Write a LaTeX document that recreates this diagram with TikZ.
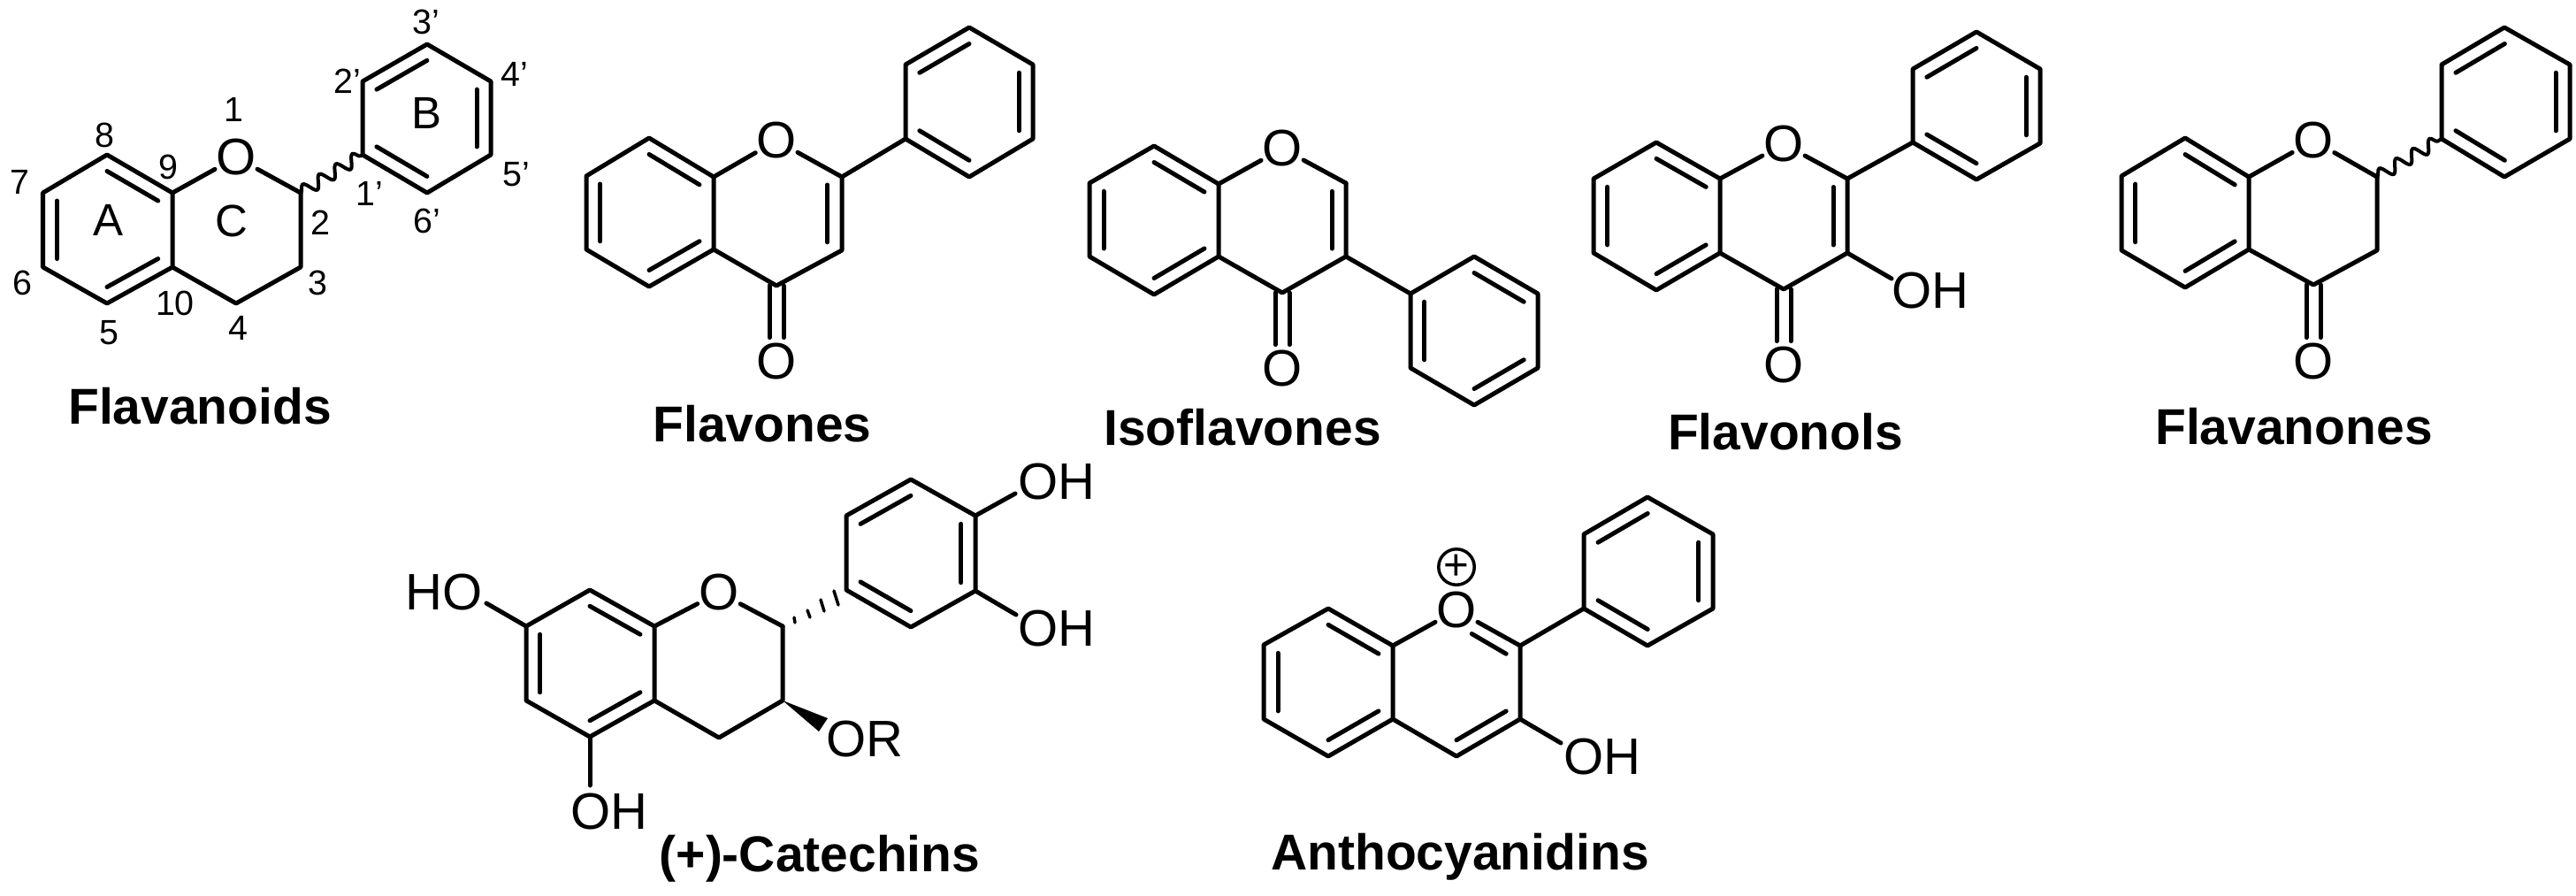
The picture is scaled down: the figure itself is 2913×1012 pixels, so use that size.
\documentclass[tikz,border=0pt]{standalone}
\usepackage{fontspec}
\setmainfont{Liberation Sans}
\usetikzlibrary{calc,decorations.pathmorphing}
\tikzset{
  x=0.01cm,y=-0.01cm,
  bond/.style={line width=0.05cm,line cap=round,line join=round},
  thinbond/.style={line width=0.035cm,line cap=round},
  wavy/.style={line width=0.04cm,decorate,decoration={snake,segment length=0.22cm,amplitude=0.07cm}},
  atom/.style={circle,inner sep=0pt,outer sep=-0.03cm,font=\fontsize{16.5pt}{18pt}\selectfont},
  grouptext/.style={inner sep=0pt,font=\fontsize{16.5pt}{18pt}\selectfont},
  numlabel/.style={inner sep=0pt,font=\fontsize{11.2pt}{13pt}\selectfont},
  ringlabel/.style={inner sep=0pt,font=\fontsize{14.5pt}{16pt}\selectfont},
  title/.style={inner sep=0pt,anchor=base,font=\fontsize{16.2pt}{18pt}\selectfont\bfseries},
}
\newcommand\ringdbl[3]{\draw[bond] ($(#1)!0.22!(#3)$) -- ($(#2)!0.22!(#3)$);}
\newcommand\arom[7]{%
  \coordinate (#11) at (#2);\coordinate (#12) at (#3);\coordinate (#13) at (#4);
  \coordinate (#14) at (#5);\coordinate (#15) at (#6);\coordinate (#16) at (#7);
  \coordinate (#1c) at ($(#11)!0.5!(#14)$);
  \draw[bond] (#11)--(#12)--(#13)--(#14)--(#15)--(#16)--cycle;
  \ringdbl{#11}{#12}{#1c}\ringdbl{#13}{#14}{#1c}\ringdbl{#15}{#16}{#1c}}
\newcommand\carbonyl[2]{%
  \draw[bond] ([xshift=-0.08cm]#1) -- ([xshift=-0.08cm]#2.north);
  \draw[bond] ([xshift=0.08cm]#1) -- ([xshift=0.08cm]#2.north);}
\begin{document}
\begin{tikzpicture}
\useasboundingbox (0,0) rectangle (2913,1012);

% ---------- Flavanoids
\arom{a}{121,175}{195,218}{195,302}{121,343}{48.5,302}{48.5,218}
\arom{b}{410,92}{483,50}{555,92}{555,175}{483,218}{410,175}
\node[atom] (aO) at (267,178) {O};
\coordinate (aC2) at (340,218);
\coordinate (aC3) at (340,302);
\coordinate (aC4) at (267,343);
\draw[bond] (a2) -- (aO);
\draw[bond] (aO) -- (aC2);
\draw[bond] (aC2) -- (aC3) -- (aC4) -- (a3);
\draw[wavy] (aC2) -- (b6);
\node[numlabel] (n1) at (264,124) {1};
\node[numlabel] (n2) at (362,252) {2};
\node[numlabel] (n3) at (359,320) {3};
\node[numlabel] (n4) at (269,371) {4};
\node[numlabel] (n5) at (123,376) {5};
\node[numlabel] (n6) at (25,320) {6};
\node[numlabel] (n7) at (22,206) {7};
\node[numlabel] (n8) at (118,153) {8};
\node[numlabel] (n9) at (190,189) {9};
\node[numlabel] (n10) at (198,343) {10};
\node[numlabel] (n1p) at (418,219) {1'};
\node[numlabel] (n2p) at (393,92) {2'};
\node[numlabel] (n3p) at (482,25) {3'};
\node[numlabel] (n4p) at (582,84) {4'};
\node[numlabel] (n5p) at (584,197) {5'};
\node[numlabel] (n6p) at (483,250) {6'};
\node[ringlabel] (rA) at (123,249) {A};
\node[ringlabel] (rC) at (262,250) {C};
\node[ringlabel] (rB) at (482,128) {B};
\node[title] (tA) at (226,479) {Flavanoids};

% ---------- Flavones
\arom{c}{734,156}{807,200}{807,282}{734,324}{663,282}{663,199}
\arom{d}{1024,73}{1096,31}{1168,73}{1168,157}{1096,200}{1024,157}
\node[atom] (cO) at (878,159) {O};
\node[atom] (cX) at (878,409) {O};
\coordinate (cC2) at (952,200);
\coordinate (cC3) at (952,283);
\coordinate (cC4) at (878,323);
\coordinate (cR) at ($(cO)!0.5!(cC4)$);
\draw[bond] (c2) -- (cO);
\draw[bond] (cO) -- (cC2);
\draw[bond] (cC2) -- (cC3) -- (cC4) -- (c3);
\ringdbl{cC2}{cC3}{cR}
\draw[bond] (cC2) -- (d6);
\carbonyl{cC4}{cX}
\node[title] (tB) at (862,499) {Flavones};

% ---------- Isoflavones
\arom{e}{1305,165}{1378,208}{1378,290}{1305,333}{1232,290}{1232,207}
\arom{f}{1667,290}{1739,332}{1739,416}{1667,458}{1595,416}{1595,332}
\node[atom] (eO) at (1450,168) {O};
\node[atom] (eX) at (1450,417) {O};
\coordinate (eC2) at (1522,207);
\coordinate (eC3) at (1522,290);
\coordinate (eC4) at (1450,331);
\coordinate (eR) at ($(eO)!0.5!(eC4)$);
\draw[bond] (e2) -- (eO);
\draw[bond] (eO) -- (eC2);
\draw[bond] (eC2) -- (eC3) -- (eC4) -- (e3);
\ringdbl{eC2}{eC3}{eR}
\draw[bond] (eC3) -- (f6);
\carbonyl{eC4}{eX}
\node[title] (tC) at (1405,503) {Isoflavones};

% ---------- Flavonols
\arom{g}{1873,161}{1945,202}{1945,286}{1873,328}{1802,286}{1802,202}
\arom{h}{2163,78}{2235,36}{2307,78}{2307,162}{2235,203}{2163,161}
\node[atom] (gO) at (2017,163) {O};
\node[atom] (gX) at (2017,413) {O};
\node[grouptext] (gOH) at (2183,329) {OH};
\coordinate (gC2) at (2089,202);
\coordinate (gC3) at (2089,286);
\coordinate (gC4) at (2017,327);
\coordinate (gE) at (2139,315);
\coordinate (gR) at ($(gO)!0.5!(gC4)$);
\draw[bond] (g2) -- (gO);
\draw[bond] (gO) -- (gC2);
\draw[bond] (gC2) -- (gC3) -- (gC4) -- (g3);
\ringdbl{gC2}{gC3}{gR}
\draw[bond] (gC2) -- (h6);
\draw[bond] (gC3) -- (gE);
\carbonyl{gC4}{gX}
\node[title] (tD) at (2019,508) {Flavonols};

% ---------- Flavanones
\arom{i}{2471,156}{2543,200}{2543,282}{2471,325}{2399,283}{2399,199}
\arom{j}{2761,73}{2832,31}{2906,73}{2906,157}{2832,200}{2761,157}
\node[atom] (iO) at (2616,159) {O};
\node[atom] (iX) at (2616,409) {O};
\coordinate (iC2) at (2688,200);
\coordinate (iC3) at (2688,283);
\coordinate (iC4) at (2616,322);
\draw[bond] (i2) -- (iO);
\draw[bond] (iO) -- (iC2);
\draw[bond] (iC2) -- (iC3) -- (iC4) -- (i3);
\draw[wavy] (iC2) -- (j6);
\carbonyl{iC4}{iX}
\node[title] (tE) at (2594,502) {Flavanones};

% ---------- (+)-Catechins
\arom{k}{667,667}{740,708}{740,792}{667,833}{595,792}{595,708}
\arom{l}{957,583}{1030,542}{1103,583}{1103,668}{1030,709}{957,667}
\node[atom] (kO) at (813,670) {O};
\coordinate (kC2) at (885,708);
\coordinate (kC3) at (885,792);
\coordinate (kC4) at (813,834);
\draw[bond] (k2) -- (kO);
\draw[bond] (kO) -- (kC2);
\draw[bond] (kC2) -- (kC3) -- (kC4) -- (k3);
\node[grouptext] (kHO) at (502,670) {HO};
\node[grouptext] (kOHb) at (689,918) {OH};
\node[grouptext] (kOR) at (978,836) {OR};
\node[grouptext] (kOHt) at (1195,545) {OH};
\node[grouptext] (kOHm) at (1195,711) {OH};
\coordinate (kE1) at (550,682);
\coordinate (kE2) at (667,888);
\coordinate (kE3) at (1148,558);
\coordinate (kE4) at (1149,695);
\draw[bond] (k6) -- (kE1);
\draw[bond] (k4) -- (kE2);
\draw[bond] (l3) -- (kE3);
\draw[bond] (l4) -- (kE4);
\coordinate (kW1) at (936,812);
\coordinate (kW2) at (926,827);
\fill (kC3) -- (kW1) -- (kW2) -- cycle;
\coordinate (kH1a) at (898,698);\coordinate (kH1b) at (899,704);
\coordinate (kH2a) at (913,690);\coordinate (kH2b) at (916,698);
\coordinate (kH3a) at (928,678);\coordinate (kH3b) at (932,691);
\coordinate (kH4a) at (943,668);\coordinate (kH4b) at (948,684);
\draw[thinbond] (kH1a) -- (kH1b);
\draw[thinbond] (kH2a) -- (kH2b);
\draw[thinbond] (kH3a) -- (kH3b);
\draw[thinbond] (kH4a) -- (kH4b);
\node[title] (tF) at (927,985) {(+)-Catechins};

% ---------- Anthocyanidins
\arom{m}{1502,688}{1575,730}{1575,813}{1502,855}{1429,813}{1429,729}
\arom{n}{1791,604}{1863,562}{1937,604}{1937,688}{1863,730}{1791,688}
\node[atom] (mO) at (1647,690) {O};
\coordinate (mC2) at (1719,730);
\coordinate (mC3) at (1719,813);
\coordinate (mC4) at (1647,855);
\coordinate (mR) at (1647,772);
\coordinate (mV) at (1647,688);
\draw[bond] (m2) -- (mO);
\draw[bond] (mO) -- (mC2);
\draw[bond] (mC2) -- (mC3) -- (mC4) -- (m3);
\ringdbl{mC3}{mC4}{mR}
\draw[bond,shorten <=0.2cm] ($(mV)!0.22!(mR)$) -- ($(mC2)!0.22!(mR)$);
\draw[bond] (mC2) -- (n6);
\node[grouptext] (mOH) at (1812,856) {OH};
\coordinate (mE) at (1765,840);
\draw[bond] (mC3) -- (mE);
\node[draw,circle,line width=0.035cm,inner sep=0pt,minimum size=0.4cm,font=\fontsize{14pt}{14pt}\selectfont] (mP) at (1647,641) {+};
\node[title] (tG) at (1651,983) {Anthocyanidins};
\end{tikzpicture}
\end{document}
